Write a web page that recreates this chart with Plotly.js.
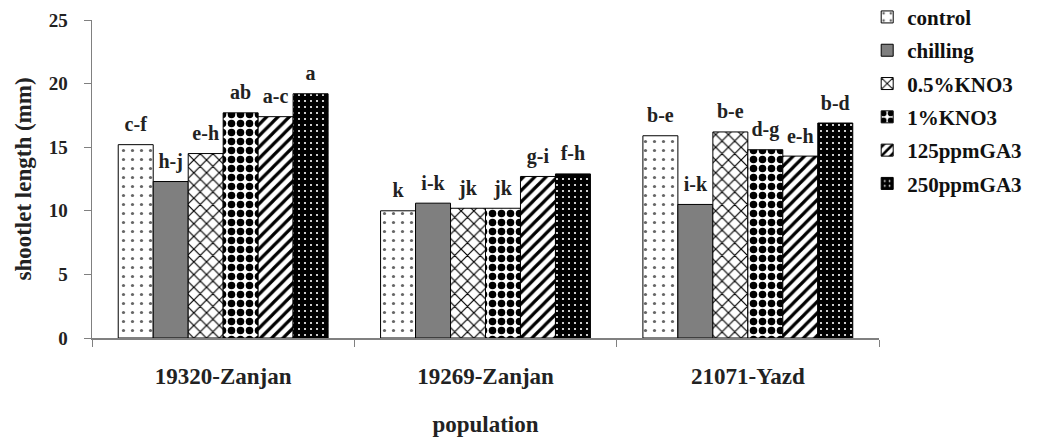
<!DOCTYPE html>
<html><head><meta charset="utf-8">
<script src="https://cdn.plot.ly/plotly-3.0.1.min.js"></script>
<style>body{margin:0;background:#fff}#c{width:1055px;height:441px}</style>
</head><body><div id="c"></div>
<script>
const categories = ["19320-Zanjan", "19269-Zanjan", "21071-Yazd"];
const treatments = ["control", "chilling", "0.5%KNO3", "1%KNO3", "125ppmGA3", "250ppmGA3"];
const control = [15.2, 10.0, 15.9];
const chilling = [12.3, 10.6, 10.5];
const kno3_05 = [14.5, 10.2, 16.2];
const kno3_1 = [17.7, 10.2, 14.8];
const ga3_125 = [17.4, 12.7, 14.3];
const ga3_250 = [19.2, 12.9, 16.9];
const lettersControl = ["c-f", "k", "b-e"];
const lettersChilling = ["h-j", "i-k", "i-k"];
const letters05 = ["e-h", "jk", "b-e"];
const letters1 = ["ab", "jk", "d-g"];
const letters125 = ["a-c", "g-i", "e-h"];
const letters250 = ["a", "f-h", "b-d"];

const series = [control, chilling, kno3_05, kno3_1, ga3_125, ga3_250];
const letters = [lettersControl, lettersChilling, letters05, letters1, letters125, letters250];
const styles = [
  {color: "#ffffff", pattern: {shape: ".", fgcolor: "#666", bgcolor: "#fff", size: 9, solidity: 0.1}},
  {color: "#7f7f7f", pattern: {shape: ""}},
  {color: "#ffffff", pattern: {shape: "x", fgcolor: "#000", bgcolor: "#fff", size: 9, solidity: 0.25}},
  {color: "#ffffff", pattern: {shape: ".", fgcolor: "#000", bgcolor: "#fff", size: 9, solidity: 0.55}},
  {color: "#ffffff", pattern: {shape: "/", fgcolor: "#000", bgcolor: "#fff", size: 8, solidity: 0.4}},
  {color: "#000000", pattern: {shape: ".", fgcolor: "#ffffff", bgcolor: "#000", size: 6, solidity: 0.1}}
];
const font = "Liberation Serif, Times New Roman, serif";
const bars = treatments.map((t, i) => ({
  type: "bar",
  name: t,
  x: categories,
  y: series[i],
  offsetgroup: "o" + i,
  marker: {color: styles[i].color, pattern: styles[i].pattern, line: {color: "#000", width: 1}},
  legendgroup: "g" + i
}));
const labels = treatments.map((t, i) => ({
  type: "scatter",
  mode: "markers+text",
  x: categories,
  y: series[i],
  text: letters[i],
  textposition: "top center",
  offsetgroup: "o" + i,
  cliponaxis: false,
  showlegend: false,
  hoverinfo: "skip",
  marker: {size: 12, color: "rgba(0,0,0,0)", line: {width: 0}},
  textfont: {family: font, size: 20, color: "#222", weight: "bold"}
}));

const layout = {
  width: 1055, height: 441,
  margin: {l: 92, r: 176, t: 20, b: 103, autoexpand: false},
  paper_bgcolor: "#fff", plot_bgcolor: "#fff",
  barmode: "group", bargap: 0.2, bargroupgap: 0,
  scattermode: "group", scattergap: 0.2,
  font: {family: font, color: "#222", size: 20, weight: "bold"},
  showlegend: true,
  legend: {x: 0.985, xanchor: "left", y: 1.073, yanchor: "top",
    font: {family: font, size: 21, color: "#111", weight: "bold"},
    tracegroupgap: 3, itemwidth: 30, bgcolor: "rgba(0,0,0,0)"},
  xaxis: {
    showline: true, linecolor: "#808080", linewidth: 1.5,
    ticks: "outside", tickson: "boundaries", ticklen: 7, tickcolor: "#808080",
    tickfont: {family: font, size: 23, weight: "bold", color: "#222"},
    ticklabelstandoff: 17,
    title: {text: "population", font: {family: font, size: 23, weight: "bold", color: "#222"}, standoff: 28},
    showgrid: false, zeroline: false
  },
  yaxis: {
    range: [0, 25], dtick: 5,
    showline: true, linecolor: "#808080", linewidth: 1.5,
    ticks: "outside", ticklen: 7, tickcolor: "#808080",
    tickfont: {family: font, size: 19, weight: "bold", color: "#222"},
    ticklabelstandoff: 12,
    title: {text: "shootlet length (mm)", font: {family: font, size: 23, weight: "bold", color: "#222"}, standoff: 10},
    showgrid: false, zeroline: false
  }
};
Plotly.newPlot("c", bars.concat(labels), layout, {displayModeBar: false, staticPlot: true});
</script></body></html>
